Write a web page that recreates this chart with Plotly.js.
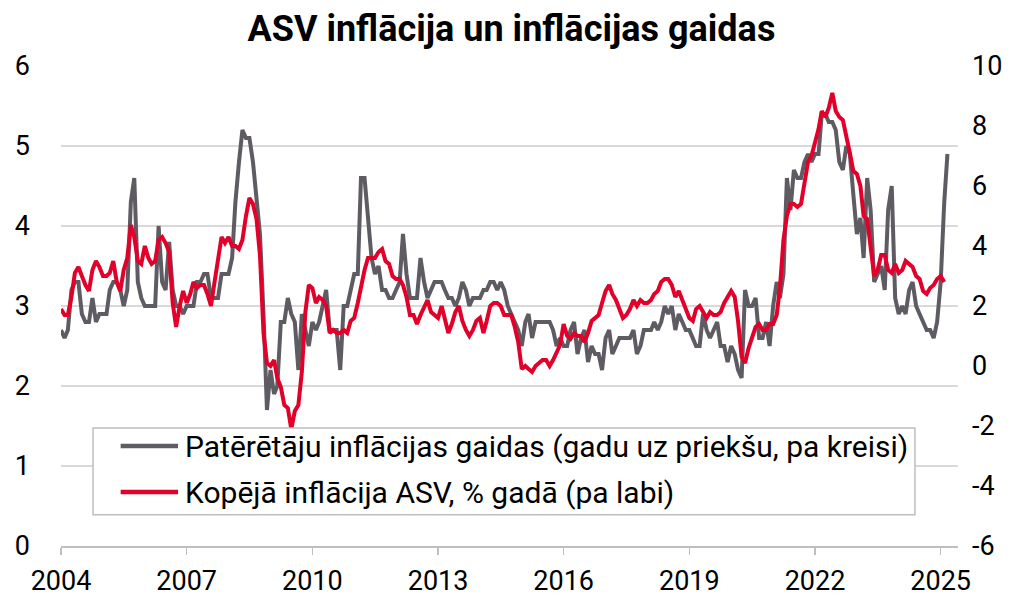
<!DOCTYPE html>
<html>
<head>
<meta charset="utf-8">
<script src="https://cdn.plot.ly/plotly-3.0.1.min.js"></script>
<style>
  html, body { margin: 0; padding: 0; background: #ffffff; }
  #chart { width: 1023px; height: 597px; }
</style>
</head>
<body>
<div id="chart"></div>
<script>
// ---- Data (monthly) ----
const startYear = 2004;

// Consumer 1-year-ahead inflation expectations (left axis), Jan 2004 – Mar 2025
const expectations = [
  2.7, 2.6, 2.7, 3.2, 3.3, 3.3, 2.9, 2.8, 2.8, 3.1, 2.8, 2.9,   // 2004
  2.9, 2.9, 3.2, 3.3, 3.3, 3.2, 3.0, 3.2, 4.3, 4.6, 3.3, 3.1,   // 2005
  3.0, 3.0, 3.0, 3.0, 4.0, 3.3, 3.2, 3.8, 3.2, 3.0, 3.0, 2.9,   // 2006
  3.0, 3.0, 3.0, 3.3, 3.3, 3.4, 3.4, 3.1, 3.1, 3.1, 3.4, 3.4,   // 2007
  3.4, 3.6, 4.3, 4.8, 5.2, 5.1, 5.1, 4.8, 4.4, 3.9, 2.9, 1.7,   // 2008
  2.2, 1.9, 2.0, 2.8, 2.8, 3.1, 2.9, 2.8, 2.2, 2.9, 2.7, 2.5,   // 2009
  2.8, 2.7, 2.8, 3.0, 3.2, 2.7, 2.7, 2.7, 2.2, 3.0, 3.0, 3.2,   // 2010
  3.4, 3.4, 4.6, 4.6, 4.1, 3.6, 3.4, 3.5, 3.2, 3.2, 3.1, 3.1,   // 2011
  3.2, 3.3, 3.9, 3.4, 3.1, 3.1, 3.1, 3.6, 3.3, 3.1, 3.2, 3.3,   // 2012
  3.3, 3.3, 3.2, 3.1, 3.1, 3.0, 3.1, 3.3, 3.2, 3.0, 3.1, 3.1,   // 2013
  3.1, 3.2, 3.2, 3.3, 3.3, 3.2, 3.3, 3.2, 3.0, 2.9, 2.8, 2.7,   // 2014
  2.5, 2.8, 2.9, 2.6, 2.8, 2.8, 2.8, 2.8, 2.8, 2.7, 2.5, 2.6,   // 2015
  2.5, 2.5, 2.7, 2.8, 2.4, 2.6, 2.7, 2.3, 2.5, 2.4, 2.4, 2.2,   // 2016
  2.6, 2.7, 2.4, 2.5, 2.6, 2.6, 2.6, 2.6, 2.7, 2.4, 2.5, 2.7,   // 2017
  2.7, 2.7, 2.8, 2.7, 2.8, 3.0, 2.9, 3.0, 2.7, 2.9, 2.8, 2.7,   // 2018
  2.7, 2.6, 2.5, 2.5, 2.9, 2.7, 2.6, 2.7, 2.8, 2.5, 2.5, 2.3,   // 2019
  2.5, 2.4, 2.2, 2.1, 3.2, 3.0, 3.0, 3.1, 2.6, 2.6, 2.8, 2.5,   // 2020
  3.0, 3.3, 3.1, 3.4, 4.6, 4.2, 4.7, 4.6, 4.6, 4.8, 4.9, 4.8,   // 2021
  4.9, 4.9, 5.4, 5.4, 5.3, 5.3, 5.2, 4.8, 4.7, 5.0, 4.9, 4.4,   // 2022
  3.9, 4.1, 3.6, 4.6, 4.2, 3.3, 3.4, 3.5, 3.2, 4.2, 4.5, 3.1,   // 2023
  2.9, 3.0, 2.9, 3.2, 3.3, 3.0, 2.9, 2.8, 2.7, 2.7, 2.6, 2.8,   // 2024
  3.3, 4.3, 4.9                                                 // 2025
];

// US headline CPI inflation, % y/y (right axis), Jan 2004 – Feb 2025
const cpi = [
  1.9, 1.7, 1.7, 2.3, 3.1, 3.3, 3.0, 2.7, 2.5, 3.2, 3.5, 3.3,   // 2004
  3.0, 3.0, 3.1, 3.5, 2.8, 2.5, 3.2, 3.6, 4.7, 4.3, 3.5, 3.4,   // 2005
  4.0, 3.6, 3.4, 3.5, 4.2, 4.3, 4.1, 3.8, 2.1, 1.3, 2.0, 2.5,   // 2006
  2.1, 2.4, 2.8, 2.6, 2.7, 2.7, 2.4, 2.0, 2.8, 3.5, 4.3, 4.1,   // 2007
  4.3, 4.0, 4.0, 3.9, 4.2, 5.0, 5.6, 5.4, 4.9, 3.7, 1.1, 0.1,   // 2008
  0.0, 0.2, -0.4, -0.7, -1.3, -1.4, -2.1, -1.5, -1.3, -0.2, 1.8, 2.7, // 2009
  2.6, 2.1, 2.3, 2.2, 2.0, 1.1, 1.2, 1.1, 1.1, 1.2, 1.1, 1.5,   // 2010
  1.6, 2.1, 2.7, 3.2, 3.6, 3.6, 3.6, 3.8, 3.9, 3.5, 3.4, 3.0,   // 2011
  2.9, 2.9, 2.7, 2.3, 1.7, 1.7, 1.4, 1.7, 2.0, 2.2, 1.8, 1.7,   // 2012
  1.6, 2.0, 1.5, 1.1, 1.4, 1.8, 2.0, 1.5, 1.2, 1.0, 1.2, 1.5,   // 2013
  1.6, 1.1, 1.5, 2.0, 2.1, 2.1, 2.0, 1.7, 1.7, 1.7, 1.3, 0.8,   // 2014
  -0.1, 0.0, -0.1, -0.2, 0.0, 0.1, 0.2, 0.2, 0.0, 0.2, 0.5, 0.7, // 2015
  1.4, 1.0, 0.9, 1.1, 1.0, 1.0, 0.8, 1.1, 1.5, 1.6, 1.7, 2.1,   // 2016
  2.5, 2.7, 2.4, 2.2, 1.9, 1.6, 1.7, 1.9, 2.2, 2.0, 2.2, 2.1,   // 2017
  2.1, 2.2, 2.4, 2.5, 2.8, 2.9, 2.9, 2.7, 2.3, 2.5, 2.2, 1.9,   // 2018
  1.6, 1.5, 1.9, 2.0, 1.8, 1.6, 1.8, 1.7, 1.7, 1.8, 2.1, 2.3,   // 2019
  2.5, 2.3, 1.5, 0.3, 0.1, 0.6, 1.0, 1.3, 1.4, 1.2, 1.2, 1.4,   // 2020
  1.4, 1.7, 2.6, 4.2, 5.0, 5.4, 5.4, 5.3, 5.4, 6.2, 6.8, 7.0,   // 2021
  7.5, 7.9, 8.5, 8.3, 8.6, 9.1, 8.5, 8.3, 8.2, 7.7, 7.1, 6.5,   // 2022
  6.4, 6.0, 5.0, 4.9, 4.0, 3.0, 3.2, 3.7, 3.7, 3.2, 3.1, 3.4,   // 2023
  3.1, 3.2, 3.5, 3.4, 3.3, 3.0, 2.9, 2.5, 2.4, 2.6, 2.7, 2.9,   // 2024
  3.0, 2.8                                                      // 2025
];

const tickYears = ['2004', '2007', '2010', '2013', '2016', '2019', '2022', '2025'];
const leftTickValues = [0, 1, 2, 3, 4, 5, 6];
const rightTickValues = [-6, -4, -2, 0, 2, 4, 6, 8, 10];
const rightTickLabels = ['-6', '-4', '-2', '0', '2', '4', '6', '8', '10'];

const seriesNames = [
  'Patērētāju inflācijas gaidas (gadu uz priekšu, pa kreisi)',
  'Kopējā inflācija ASV, % gadā (pa labi)'
];
const seriesColors = ['#5f5b63', '#e2002b'];
const chartTitle = 'ASV inflācija un inflācijas gaidas';

// ---- Build monthly date categories ----
function monthDates(n) {
  const out = [];
  for (let i = 0; i < n; i++) {
    const y = startYear + Math.floor(i / 12);
    const m = (i % 12) + 1;
    out.push(y + '-' + (m < 10 ? '0' + m : m) + '-01');
  }
  return out;
}

const traces = [
  {
    x: monthDates(expectations.length),
    y: expectations,
    type: 'scatter',
    mode: 'lines',
    name: seriesNames[0],
    yaxis: 'y',
    showlegend: false,
    line: { color: seriesColors[0], width: 4 }
  },
  {
    x: monthDates(cpi.length),
    y: cpi,
    type: 'scatter',
    mode: 'lines',
    name: seriesNames[1],
    yaxis: 'y2',
    showlegend: false,
    line: { color: seriesColors[1], width: 4 }
  }
];

const FONT = 'Roboto, Arial, sans-serif';
const tickFont = { family: FONT, size: 27, color: '#000000' };

// ---- Legend box (drawn as shapes + text, paper coordinates) ----
const legendBox = { x0: 0.0357, x1: 0.952, y0: 0.065, y1: 0.246 };
const legendRows = [0.2083, 0.1125];
const legendLineX = [0.0665, 0.1305];
const legendTextX = 0.136;

const shapes = [
  {
    type: 'rect', xref: 'paper', yref: 'paper', layer: 'above',
    x0: legendBox.x0, x1: legendBox.x1, y0: legendBox.y0, y1: legendBox.y1,
    fillcolor: '#ffffff', line: { color: '#bfbfbf', width: 1.5 }
  }
];
const annotations = [];
seriesNames.forEach((name, i) => {
  shapes.push({
    type: 'line', xref: 'paper', yref: 'paper', layer: 'above',
    x0: legendLineX[0], x1: legendLineX[1], y0: legendRows[i], y1: legendRows[i],
    line: { color: seriesColors[i], width: 4.5 }
  });
  annotations.push({
    xref: 'paper', yref: 'paper', x: legendTextX, y: legendRows[i],
    xanchor: 'left', yanchor: 'middle', showarrow: false,
    text: name, font: { family: FONT, size: 30, color: '#000000' }
  });
});

const layout = {
  width: 1023,
  height: 597,
  paper_bgcolor: '#ffffff',
  plot_bgcolor: '#ffffff',
  font: { family: FONT, color: '#000000' },
  margin: { l: 61, r: 65, t: 66, b: 51, pad: 0 },
  title: {
    text: chartTitle,
    font: { family: FONT, size: 36, color: '#000000', weight: 'bold' },
    x: 0.5, xref: 'container', xanchor: 'center',
    y: 1 - 28 / 597, yref: 'container', yanchor: 'middle'
  },
  xaxis: {
    type: 'date',
    range: ['2004-01-01', '2025-06-01'],
    tickmode: 'array',
    tickvals: tickYears.map(y => y + '-01-01'),
    ticktext: tickYears,
    ticks: 'outside',
    ticklen: 7,
    tickwidth: 1.5,
    tickcolor: '#bfbfbf',
    showline: true,
    linecolor: '#bfbfbf',
    linewidth: 2,
    showgrid: false,
    zeroline: false,
    tickfont: tickFont,
    ticklabelstandoff: 3,
    fixedrange: true
  },
  yaxis: {
    range: [0, 6],
    tickmode: 'array',
    tickvals: leftTickValues,
    ticktext: leftTickValues.map(String),
    showgrid: true,
    gridcolor: '#d9d9d9',
    gridwidth: 2,
    zeroline: false,
    showline: false,
    ticks: '',
    tickfont: tickFont,
    ticklabelstandoff: 30,
    fixedrange: true
  },
  yaxis2: {
    range: [-6, 10],
    tickmode: 'array',
    tickvals: rightTickValues,
    ticktext: rightTickLabels,
    overlaying: 'y',
    side: 'right',
    showgrid: false,
    zeroline: false,
    showline: false,
    ticks: '',
    tickfont: tickFont,
    ticklabelstandoff: 13,
    fixedrange: true
  },
  showlegend: false,
  shapes: shapes,
  annotations: annotations
};

Plotly.newPlot('chart', traces, layout, { displayModeBar: false, staticPlot: true });
</script>
</body>
</html>
